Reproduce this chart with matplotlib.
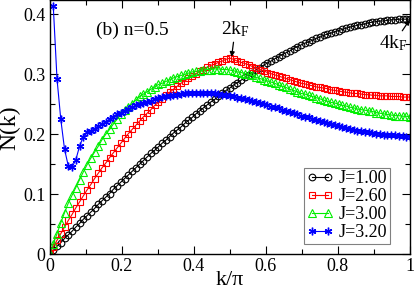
#!/usr/bin/env python

import numpy as np
import matplotlib
matplotlib.use('Agg')
import matplotlib.pyplot as plt
from matplotlib.ticker import MultipleLocator

plt.rcParams['font.family'] = ['Liberation Serif', 'DejaVu Serif']
plt.rcParams['mathtext.fontset'] = 'custom'
plt.rcParams['mathtext.rm'] = 'Liberation Serif'
plt.rcParams['mathtext.it'] = 'Liberation Serif:italic'

# Data, k/pi = j/96
# ===========================
j_all = np.arange(0, 97)
j_blue = np.arange(1, 97)

n_J100 = [0.000, 0.006, 0.013, 0.019, 0.026, 0.032, 0.038, 0.045, 0.051, 0.058,
          0.064, 0.070, 0.076, 0.083, 0.089, 0.095, 0.101, 0.108, 0.114, 0.120,
          0.126, 0.132, 0.138, 0.144, 0.150, 0.156, 0.162, 0.168, 0.173, 0.179,
          0.185, 0.190, 0.196, 0.202, 0.207, 0.212, 0.218, 0.223, 0.228, 0.234,
          0.239, 0.244, 0.249, 0.254, 0.258, 0.263, 0.268, 0.273, 0.277, 0.282,
          0.286, 0.290, 0.295, 0.299, 0.303, 0.307, 0.311, 0.315, 0.319, 0.322,
          0.326, 0.329, 0.333, 0.336, 0.339, 0.343, 0.346, 0.349, 0.352, 0.354,
          0.357, 0.360, 0.362, 0.365, 0.367, 0.369, 0.371, 0.373, 0.375, 0.377,
          0.379, 0.380, 0.382, 0.383, 0.384, 0.386, 0.387, 0.388, 0.389, 0.389,
          0.390, 0.391, 0.391, 0.392, 0.392, 0.392, 0.392]

n_J260 = [0.000, 0.012, 0.023, 0.034, 0.045, 0.056, 0.066, 0.077, 0.087, 0.097,
          0.107, 0.116, 0.126, 0.135, 0.144, 0.152, 0.161, 0.169, 0.177, 0.185,
          0.193, 0.201, 0.208, 0.215, 0.222, 0.229, 0.235, 0.241, 0.248, 0.253,
          0.259, 0.265, 0.270, 0.275, 0.280, 0.285, 0.289, 0.293, 0.297, 0.301,
          0.305, 0.308, 0.312, 0.315, 0.317, 0.320, 0.322, 0.325, 0.327, 0.325,
          0.322, 0.320, 0.318, 0.316, 0.313, 0.311, 0.308, 0.306, 0.303, 0.301,
          0.299, 0.297, 0.295, 0.293, 0.291, 0.289, 0.287, 0.285, 0.284, 0.282,
          0.281, 0.279, 0.278, 0.277, 0.276, 0.274, 0.273, 0.272, 0.271, 0.270,
          0.269, 0.268, 0.268, 0.267, 0.266, 0.266, 0.265, 0.265, 0.264, 0.264,
          0.264, 0.263, 0.263, 0.263, 0.262, 0.262, 0.262]

n_J300 = [0.000, 0.017, 0.034, 0.052, 0.069, 0.085, 0.098, 0.111, 0.124, 0.137,
          0.149, 0.160, 0.170, 0.180, 0.191, 0.200, 0.208, 0.217, 0.225, 0.233,
          0.240, 0.245, 0.251, 0.257, 0.263, 0.267, 0.271, 0.275, 0.279, 0.283,
          0.285, 0.288, 0.291, 0.294, 0.296, 0.298, 0.300, 0.302, 0.304, 0.305,
          0.306, 0.307, 0.308, 0.308, 0.309, 0.309, 0.308, 0.308, 0.307, 0.306,
          0.304, 0.303, 0.301, 0.300, 0.298, 0.295, 0.293, 0.291, 0.289, 0.287,
          0.285, 0.282, 0.280, 0.278, 0.275, 0.273, 0.271, 0.268, 0.267, 0.265,
          0.263, 0.261, 0.259, 0.257, 0.255, 0.253, 0.252, 0.250, 0.248, 0.247,
          0.245, 0.244, 0.242, 0.241, 0.240, 0.239, 0.238, 0.236, 0.235, 0.234,
          0.233, 0.232, 0.231, 0.231, 0.230, 0.230, 0.229]

n_J320 = [0.414, 0.292, 0.225, 0.175, 0.147, 0.145, 0.157, 0.180, 0.196,
          0.203, 0.206, 0.209, 0.213, 0.217, 0.221, 0.225, 0.229, 0.233, 0.236,
          0.239, 0.242, 0.245, 0.248, 0.250, 0.252, 0.254, 0.256, 0.258, 0.260,
          0.262, 0.263, 0.264, 0.265, 0.266, 0.267, 0.268, 0.268, 0.269, 0.269,
          0.269, 0.269, 0.269, 0.269, 0.268, 0.267, 0.266, 0.265, 0.264, 0.263,
          0.261, 0.260, 0.258, 0.257, 0.255, 0.253, 0.252, 0.250, 0.248, 0.246,
          0.245, 0.243, 0.241, 0.239, 0.237, 0.235, 0.233, 0.231, 0.229, 0.228,
          0.226, 0.224, 0.222, 0.220, 0.219, 0.217, 0.215, 0.214, 0.212, 0.210,
          0.209, 0.207, 0.206, 0.205, 0.204, 0.203, 0.202, 0.201, 0.200, 0.199,
          0.199, 0.198, 0.198, 0.197, 0.197, 0.196, 0.196]

x_ticks = [0, 0.2, 0.4, 0.6, 0.8, 1.0]
x_ticklabels = ['0', '0.2', '0.4', '0.6', '0.8', '1']
y_ticks = [0, 0.1, 0.2, 0.3, 0.4]
y_ticklabels = ['0', '0.1', '0.2', '0.3', '0.4']

k_all = j_all / 96.0
k_blue = j_blue / 96.0

# Plot
# ===========================
fig = plt.figure(figsize=(4.15, 2.91), dpi=100, facecolor='w')
ax = fig.add_axes([0.1193, 0.1271, 0.8687, 0.8712])

ax.plot(k_all, n_J100, color='black', lw=0.8, marker='o', ms=4.8,
        mfc='none', mew=0.8, label='J=1.00')
ax.plot(k_all, n_J260, color='#ff0000', lw=0.8, marker='s', ms=5.0,
        mfc='none', mew=0.8, label='J=2.60')
ax.plot(k_all, n_J300, color='#00ee00', lw=0.8, marker='^', ms=5.2,
        mfc='none', mew=0.8, label='J=3.00')
ax.plot(k_blue, n_J320, color='#0000ff', lw=0.8, marker=(6, 2, 0), ms=5.5,
        mew=1.0, label='J=3.20')

ax.set_xlim(0, 1)
ax.set_ylim(0, 0.4232)
ax.set_xticks(x_ticks)
ax.set_xticklabels(x_ticklabels)
ax.set_yticks(y_ticks)
ax.set_yticklabels(y_ticklabels)
ax.xaxis.set_minor_locator(MultipleLocator(0.1))
ax.yaxis.set_minor_locator(MultipleLocator(0.05))
ax.tick_params(which='both', direction='in', top=True, right=True,
               labelsize=13, width=0.8)
ax.tick_params(which='major', length=6, pad=3)
ax.tick_params(which='minor', length=3.5)
for spine in ax.spines.values():
    spine.set_linewidth(1.0)

ax.set_xlabel('k/π', fontsize=16, labelpad=-3)
ax.set_ylabel('N(k)', fontsize=17, labelpad=2)

ax.text(0.229, 0.365, '(b) n=0.5', fontsize=14, ha='center', va='baseline')

ax.annotate('2k$_\\mathrm{F}$', xy=(0.505, 0.329), xytext=(0.515, 0.366),
            fontsize=14, ha='center', va='baseline',
            arrowprops=dict(arrowstyle='-|>', color='black', lw=0.9,
                            mutation_scale=7, shrinkA=0, shrinkB=0),
            )
ax.annotate('4k$_\\mathrm{F}$', xy=(0.999, 0.391), xytext=(0.955, 0.343),
            fontsize=14, ha='center', va='baseline',
            arrowprops=dict(arrowstyle='-|>', color='black', lw=0.9,
                            mutation_scale=7, shrinkA=0, shrinkB=0),
            )

leg = ax.legend(loc='lower right', bbox_to_anchor=(0.945, 0.04), fontsize=13,
                numpoints=2, handlelength=1.5, handletextpad=0.3,
                labelspacing=0.05, borderpad=0.15, borderaxespad=0,
                fancybox=False, framealpha=1, edgecolor='#808080')
leg.get_frame().set_linewidth(0.8)

plt.savefig('out.png', dpi=100)
